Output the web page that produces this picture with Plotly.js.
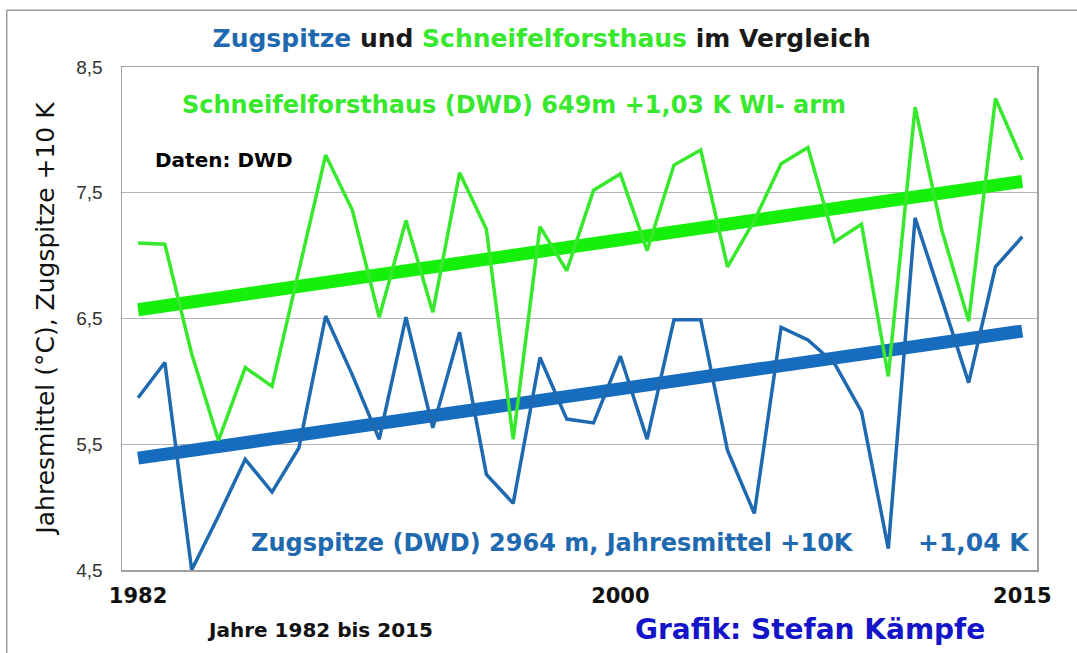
<!DOCTYPE html>
<html>
<head>
<meta charset="utf-8">
<script src="https://cdn.plot.ly/plotly-3.0.1.min.js"></script>
<style>
  html, body { margin: 0; padding: 0; background: #fff; }
  #chart { width: 1077px; height: 653px; }
</style>
</head>
<body>
<div id="chart"></div>
<script>
// Jahresmittel
const years = [1982, 1983, 1984, 1985, 1986, 1987, 1988, 1989, 1990, 1991, 1992,
               1993, 1994, 1995, 1996, 1997, 1998, 1999, 2000, 2001, 2002, 2003,
               2004, 2005, 2006, 2007, 2008, 2009, 2010, 2011, 2012, 2013, 2014, 2015];

// Schneifelforsthaus (DWD) 649 m
const schneifel = [7.10, 7.09, 6.22, 5.53, 6.11, 5.96, 6.88, 7.80, 7.36, 6.51, 7.28,
                   6.55, 7.66, 7.21, 5.54, 7.23, 6.88, 7.52, 7.65, 7.04, 7.72, 7.84,
                   6.91, 7.28, 7.73, 7.86, 7.11, 7.25, 6.04, 8.18, 7.20, 6.48, 8.25, 7.76];

// Zugspitze (DWD) 2964 m, +10 K
const zugspitze = [5.87, 6.15, 4.50, 4.93, 5.38, 5.12, 5.47, 6.52, 6.05, 5.54, 6.51,
                   5.63, 6.39, 5.26, 5.03, 6.19, 5.70, 5.67, 6.20, 5.54, 6.49, 6.49,
                   5.45, 4.95, 6.43, 6.33, 6.14, 5.76, 4.67, 7.30, 6.65, 5.99, 6.91, 7.15];

// lineare Trends (Anfang / Ende)
const trendYears = [1982, 2015];
const schneifelTrend = [6.57, 7.59];
const zugspitzeTrend = [5.39, 6.40];

const yTicks = [4.5, 5.5, 6.5, 7.5, 8.5];
const yTickText = ["4,5", "5,5", "6,5", "7,5", "8,5"];
const xTicks = [1982, 2000, 2015];

const green = "rgb(55,232,45)";
const greenTrend = "rgb(20,240,10)";
const blue = "rgb(30,105,175)";
const blueTrend = "rgb(22,108,190)";
const fontFam = "Arial, 'Liberation Sans', sans-serif";
const wideFam = "'DejaVu Sans', Verdana, sans-serif";

const traces = [
  {
    x: trendYears, y: schneifelTrend, mode: "lines", type: "scatter",
    line: {color: greenTrend, width: 13}, name: "Trend Schneifel", hoverinfo: "skip"
  },
  {
    x: trendYears, y: zugspitzeTrend, mode: "lines", type: "scatter",
    line: {color: blueTrend, width: 13}, name: "Trend Zugspitze", hoverinfo: "skip"
  },
  {
    x: years, y: schneifel, mode: "lines", type: "scatter",
    line: {color: green, width: 3.5}, name: "Schneifelforsthaus"
  },
  {
    x: years, y: zugspitze, mode: "lines", type: "scatter",
    line: {color: blue, width: 3.5}, name: "Zugspitze"
  }
];

function note(text, x, y, size, color, extra) {
  return Object.assign({
    text: text, xref: "paper", yref: "paper", x: x, y: y,
    xanchor: "center", yanchor: "middle", showarrow: false,
    font: {size: size, color: color, family: wideFam}
  }, extra || {});
}

const layout = {
  width: 1077,
  height: 653,
  margin: {l: 122, r: 40, t: 67, b: 83},
  paper_bgcolor: "#fff",
  plot_bgcolor: "#fff",
  showlegend: false,
  font: {family: fontFam, color: "#222"},
  title: {
    text: "<b><span style='color:" + blue + "'>Zugspitze</span> und " +
          "<span style='color:" + green + "'>Schneifelforsthaus</span> im Vergleich</b>",
    font: {size: 25, color: "#1a1a1a", family: wideFam},
    x: 0.503, xanchor: "center",
    y: 0.942, yanchor: "middle"
  },
  xaxis: {
    range: [1981.4, 2015.55],
    tickvals: xTicks,
    ticktext: xTicks.map(v => "<b>" + v + "</b>"),
    tickfont: {size: 21, color: "#111", family: wideFam},
    ticks: "",
    ticklabelstandoff: 6,
    showgrid: false,
    zeroline: false,
    showline: true, mirror: true, linecolor: "#a0a0a0", linewidth: 1.5
  },
  yaxis: {
    range: [4.5, 8.5],
    tickvals: yTicks,
    ticktext: yTickText,
    tickfont: {size: 19, color: "#333"},
    ticks: "",
    ticklabelstandoff: 14,
    showgrid: true, gridcolor: "#b4b4b4", gridwidth: 1.3,
    zeroline: false,
    showline: true, mirror: true, linecolor: "#a0a0a0", linewidth: 1.5
  },
  shapes: [
    {type: "line", xref: "paper", yref: "paper", x0: -0.126, x1: 1.05, y0: 1.113, y1: 1.113,
     line: {color: "#999", width: 1.5}},
    {type: "line", xref: "paper", yref: "paper", x0: -0.126, x1: -0.126, y0: -0.17, y1: 1.113,
     line: {color: "#999", width: 1.5}}
  ],
  annotations: [
    note("<b>Schneifelforsthaus (DWD) 649m +1,03 K WI- arm</b>", 0.428, 0.924, 24, green),
    note("<b>Daten: DWD</b>", 0.111, 0.815, 20, "#000"),
    note("<b>Zugspitze (DWD) 2964 m, Jahresmittel +10K</b>", 0.47, 0.054, 24, blue),
    note("<b>+1,04 K</b>", 0.931, 0.054, 25, blue),
    note("<b>Jahre 1982 bis 2015</b>", 0.216, -0.119, 20, "#111"),
    note("<b>Grafik: Stefan Kämpfe</b>", 0.752, -0.119, 28, "rgb(20,20,200)"),
    note("Jahresmittel (°C), Zugspitze +10 K", -0.084, 0.5, 25, "#111", {textangle: -90})
  ]
};

Plotly.newPlot("chart", traces, layout, {displayModeBar: false, staticPlot: true});
</script>
</body>
</html>
